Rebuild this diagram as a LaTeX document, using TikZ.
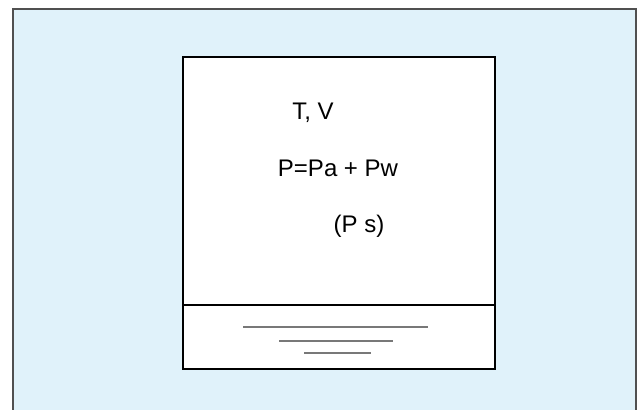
\documentclass[tikz,border=0pt]{standalone}
\usepackage{fontspec}
\setmainfont{Liberation Sans}
\usetikzlibrary{positioning,calc}
\definecolor{skyblue}{RGB}{224,242,250}
\definecolor{frame}{RGB}{80,80,80}
\definecolor{surface}{RGB}{120,120,120}

\begin{document}
\begin{tikzpicture}[
  x=0.5pt, y=-0.5pt,
  font=\fontsize{12}{14}\selectfont,
  backdrop/.style={fill=skyblue, draw=none},
  border/.style={draw=frame, line width=0.7pt},
  vessel/.style={draw=black, fill=white, line width=1pt},
  level/.style={draw=black, line width=0.8pt},
  water/.style={draw=surface, line width=0.7pt},
  quantity/.style={anchor=base, inner sep=0pt, text=black},
]
\useasboundingbox (0,0) rectangle (640,410);

% ---- background panel ----
\fill[backdrop] (13,9) rectangle (636,410);
\draw[border] (13,410) -- (13,9) -- (636,9) -- (636,410);

% ---- closed vessel ----
\draw[vessel] (183,57) rectangle (495,369);
\coordinate (lvlL) at (183,305);
\coordinate (lvlR) at (495,305);
\draw[level] (lvlL) -- (lvlR);

% ---- water surface marks ----
\coordinate (w1a) at (243,327); \coordinate (w1b) at (428,327);
\coordinate (w2a) at (279,341); \coordinate (w2b) at (393,341);
\coordinate (w3a) at (304,353); \coordinate (w3b) at (371,353);
\draw[water] (w1a) -- (w1b);
\draw[water] (w2a) -- (w2b);
\draw[water] (w3a) -- (w3b);

% ---- labels ----
\node[quantity] (tv) at (313,120) {T, V};
\node[quantity] (press) at (338,177) {P=Pa + Pw};
\node[quantity] (psat) at (359,233) {(P s)};

\end{tikzpicture}
\end{document}
